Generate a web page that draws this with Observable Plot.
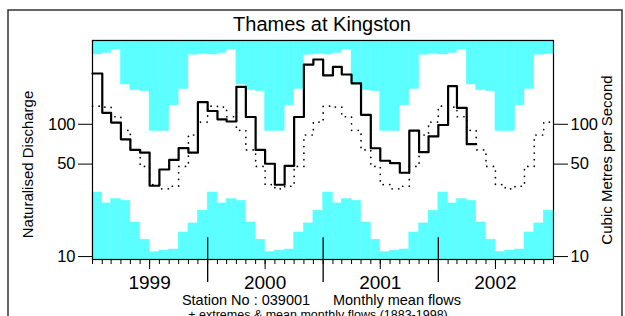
<!DOCTYPE html>
<html><head><meta charset="utf-8">
<script src="https://cdn.jsdelivr.net/npm/d3@7"></script>
<script src="https://cdn.jsdelivr.net/npm/@observablehq/plot@0.6"></script>
<style>
body{margin:0;background:#fff;}
#chart{position:relative;width:625px;height:316px;overflow:hidden;}
</style></head><body><div id="chart"></div>
<script>
// Long-term (1883-1998) monthly statistics, Jan..Dec (m3/s)
const maxFlow  = [337, 346, 367, 200, 181, 178, 89, 89, 139, 185, 336, 340];
const minFlow  = [30.5, 25.2, 27.2, 26.4, 18.1, 13.4, 10.8, 11.1, 11.3, 15.2, 17.8, 22.2];
const meanFlow = [137, 135, 114, 90, 64, 48, 35, 32.5, 34, 48, 83, 104];
// Monthly mean flows Jan 1999 .. Apr 2002
const flow1999 = [242, 122, 103, 77, 64, 61, 34.3, 45.5, 53.8, 66, 61, 147];
const flow2000 = [126, 109, 105, 192, 113.5, 64, 50.3, 34.9, 48.5, 113.5, 283, 309];
const flow2001 = [234, 272, 238, 204, 118, 65.9, 53, 50.8, 43, 89.5, 61.5, 81];
const flow2002 = [98.8, 194.5, 133, 70.7];
const yearLabels = [1999, 2000, 2001, 2002];
const yTicks = [10, 50, 100];
const yDomain = [9.5, 430];

const cyan = "#5cffff";
const startYear = yearLabels[0];
const nMonths = yearLabels.length * 12;
const months = d3.range(nMonths).map(i => ({
  start: new Date(Date.UTC(startYear, i, 1)),
  end: new Date(Date.UTC(startYear, i + 1, 1)),
  m: i % 12
}));
const meanPts = months.map(d => ({x: d.start, y: meanFlow[d.m]}))
  .concat([{x: months[nMonths - 1].end, y: meanFlow[11]}]);
const flows = [...flow1999, ...flow2000, ...flow2001, ...flow2002];
const flowPts = flows.map((v, i) => ({x: months[i].start, y: v}))
  .concat([{x: months[flows.length - 1].end, y: flows[flows.length - 1]}]);
const monthTicks = d3.range(nMonths + 1).map(i => new Date(Date.UTC(startYear, i, 1)));
const midYear = yearLabels.map(y => new Date(Date.UTC(y, 6, 1)));
const yearBounds = yearLabels.slice(1).map(y => new Date(Date.UTC(y, 0, 1)));

const chart = Plot.plot({
  width: 625, height: 316,
  marginLeft: 92, marginRight: 72, marginTop: 40, marginBottom: 57,
  style: {fontFamily: "'Liberation Sans', Arial, sans-serif", background: "white", color: "black", overflow: "visible"},
  x: {type: "utc", domain: [monthTicks[0], monthTicks[nMonths]]},
  y: {type: "log", domain: yDomain},
  marks: [
    Plot.rect(months, {x1: "start", x2: "end", y1: d => maxFlow[d.m], y2: yDomain[1], fill: cyan, stroke: cyan, strokeWidth: 0.5}),
    Plot.rect(months, {x1: "start", x2: "end", y1: yDomain[0], y2: d => minFlow[d.m], fill: cyan, stroke: cyan, strokeWidth: 0.5}),
    Plot.line(meanPts, {x: "x", y: "y", curve: "step-after", stroke: "black", strokeWidth: 1.7, strokeDasharray: "0.1,6.5", strokeLinecap: "round"}),
    Plot.line(flowPts, {x: "x", y: "y", curve: "step-after", stroke: "black", strokeWidth: 2.2}),
    Plot.ruleX(yearBounds, {y1: yDomain[0], y2: 13.9, stroke: "black", strokeWidth: 1.3}),
    Plot.frame({stroke: "black", strokeWidth: 1.2}),
    Plot.axisY(yTicks, {anchor: "left", tickSize: 14, tickFormat: () => "", label: null}),
    Plot.axisY(yTicks, {anchor: "right", tickSize: 14, tickFormat: () => "", label: null}),
    Plot.text(yTicks, {y: d => d, text: d => String(d), frameAnchor: "left", dx: -17, textAnchor: "end", fontSize: 16.5, fill: "black"}),
    Plot.text(yTicks, {y: d => d, text: d => String(d), frameAnchor: "right", dx: 17, textAnchor: "start", fontSize: 16.5, fill: "black"}),
    Plot.axisX(monthTicks, {anchor: "bottom", tickSize: 5, tickFormat: () => "", label: null}),
    Plot.axisX(midYear, {anchor: "bottom", tickSize: 10, tickPadding: 6, fontSize: 19, tickFormat: d => String(d.getUTCFullYear()), label: null}),
    Plot.axisX(yearBounds, {anchor: "bottom", tickSize: 23, tickFormat: () => "", label: null, strokeWidth: 1.3})
  ]
});
document.getElementById("chart").appendChild(chart);

const svg = d3.select(chart);
svg.append("rect").attr("x", 8).attr("y", 10).attr("width", 614).attr("height", 400)
  .attr("fill", "none").attr("stroke", "#333").attr("stroke-width", 1.5);
const txt = (x, y, s, size, rot) => {
  const t = svg.append("text").attr("text-anchor", "middle").attr("font-size", size).attr("fill", "black").text(s);
  if (rot) t.attr("transform", `translate(${x},${y}) rotate(-90)`);
  else t.attr("x", x).attr("y", y);
  return t;
};
txt(322, 30.5, "Thames at Kingston", 20);
txt(33, 164.5, "Naturalised Discharge", 15, true);
txt(612, 160, "Cubic Metres per Second", 15, true);
txt(246, 305, "Station No : 039001", 14.5);
txt(397, 305, "Monthly mean flows", 14.5);
txt(318, 319, "+ extremes & mean monthly flows (1883-1998)", 12.5);
</script></body></html>
